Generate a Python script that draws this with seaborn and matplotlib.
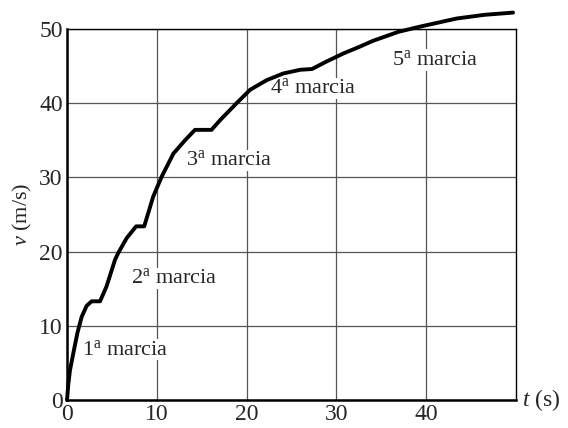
import seaborn as sns
import matplotlib.pyplot as plt
import pandas

# velocita' dell'auto (con i cambi di marcia)
t = [0, 0.15, 0.33, 0.7, 1.15, 1.63, 2.19, 2.75, 3.68, 4.4, 5.35, 5.7, 6.64,
     7.7, 8.6, 9.6, 10.55, 11.85, 13.15, 14.26, 16.1, 17.05, 18.9, 20.4,
     22.25, 24.1, 26.0, 27.3, 28.9, 30.8, 32.6, 34.1, 36.9, 39.3, 43.4,
     46.5, 49.7]
v = [0, 2.2, 4.0, 6.3, 9.0, 11.2, 12.7, 13.3, 13.3, 15.3, 18.9, 19.8, 21.8,
     23.4, 23.4, 27.4, 30.1, 33.2, 35.0, 36.4, 36.4, 37.7, 40.0, 41.8,
     43.1, 44.0, 44.5, 44.6, 45.6, 46.7, 47.6, 48.4, 49.6, 50.3, 51.4,
     51.9, 52.2]

marce = ['1$^{\\rm a}$ marcia', '2$^{\\rm a}$ marcia', '3$^{\\rm a}$ marcia',
         '4$^{\\rm a}$ marcia', '5$^{\\rm a}$ marcia']
marce_t = [1.7, 7.1, 13.3, 22.6, 36.2]
marce_v = [6.8, 16.4, 32.3, 42.0, 45.8]

sns.set_style("white")
plt.rcParams['font.family'] = ['Liberation Serif', 'DejaVu Serif']
plt.rcParams['mathtext.fontset'] = 'custom'
plt.rcParams['mathtext.rm'] = 'Liberation Serif'
plt.rcParams['mathtext.it'] = 'Liberation Serif:italic'

df = pandas.DataFrame({'t': t, 'v': v})

fig = plt.figure(figsize=(5.68, 4.28), dpi=100)
ax = fig.add_axes([0.118, 0.0654, 0.79, 0.867])
sns.lineplot(data=df, x='t', y='v', sort=False, color='black', lw=2.8,
             ax=ax, clip_on=False, zorder=5)

ax.set_xlim(0, 50)
ax.set_ylim(0, 50)
ax.set_xticks([0, 10, 20, 30, 40])
ax.set_yticks([0, 10, 20, 30, 40, 50])
ax.grid(True, color='#555555', lw=0.9)
ax.tick_params(length=0, labelsize=17, pad=3)
for s in ax.spines.values():
    s.set_color('black')
    s.set_linewidth(1.0)
ax.spines['left'].set_linewidth(1.8)
ax.spines['bottom'].set_linewidth(1.8)

for lab, x, y in zip(marce, marce_t, marce_v):
    ax.text(x, y, lab, fontsize=16, ha='left', va='center',
            bbox=dict(facecolor='white', edgecolor='none', pad=0.5))

ax.set_xlabel('')
ax.set_ylabel('$\\mathit{v}$ (m/s)', fontsize=16, labelpad=4)
ax.text(1.015, 0.0, '$\\mathit{t}$ (s)', transform=ax.transAxes,
        fontsize=17, ha='left', va='center')

fig.savefig('out.png', dpi=100)
